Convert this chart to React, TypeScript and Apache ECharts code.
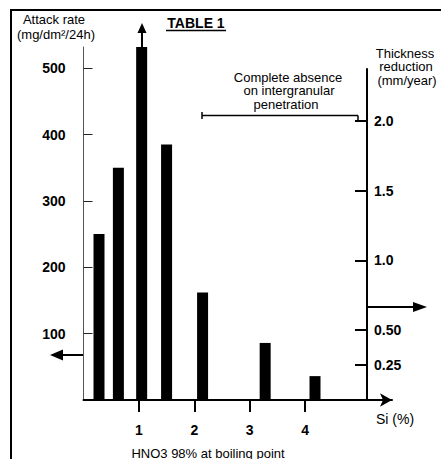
import React, { useEffect, useRef } from "react";
import * as echarts from "echarts";

// Si content (%) and attack rate (mg/dm²/24h) for each bar
const siPercent = [0.28, 0.63, 1.05, 1.5, 2.15, 3.28, 4.18];
const attackRate = [250, 350, 532, 385, 162, 86, 36];
// index of the bar that goes off the scale (drawn with an arrow)
const offScaleIndex = 2;

// tick labels
const rateTicks = [100, 200, 300, 400, 500];
const siTicks = [1, 2, 3, 4];
const thicknessTicks = [0.25, 0.5, 1.0, 1.5, 2.0];
const thicknessLabels = ["0.25", "0.50", "1.0", "1.5", "2.0"];

// texts
const chartTitle = "TABLE 1";
const leftTitle = ["Attack rate", "(mg/dm²/24h)"];
const rightTitle = ["Thickness", "reduction", "(mm/year)"];
const note = ["Complete absence", "on intergranular", "penetration"];
const xName = "Si (%)";
const caption = "HNO3 98% at boiling point";

const FONT = "'Liberation Sans', Arial, Helvetica, sans-serif";

function txt(text: string, x: number, y: number, size: number, bold = false, align = "center") {
  return {
    type: "text",
    x,
    y,
    silent: true,
    style: {
      text,
      fill: "#000",
      font: `${bold ? "bold " : ""}${size}px ${FONT}`,
      align,
      verticalAlign: "middle",
      textAlign: align,
      textVerticalAlign: "middle",
    },
  };
}

function line(x1: number, y1: number, x2: number, y2: number, w = 2) {
  return {
    type: "line",
    silent: true,
    shape: { x1, y1, x2, y2 },
    style: { stroke: "#000", lineWidth: w },
  };
}

function tri(points: number[][]) {
  return { type: "polygon", silent: true, shape: { points }, style: { fill: "#000" } };
}

export default function App() {
  const ref = useRef<HTMLDivElement>(null);

  useEffect(() => {
    if (!ref.current) return;
    const chart = echarts.init(ref.current, null, { renderer: "svg" });

    const option: any = {
      animation: false,
      backgroundColor: "#fff",
      grid: [
        { left: 83.5, top: 47, width: 308.5, height: 353 },
        { left: 83.5, top: 69, width: 283.5, height: 331 },
      ],
      xAxis: [
        {
          type: "value",
          gridIndex: 0,
          min: 0,
          max: 5.57,
          splitLine: { show: false },
          axisLine: {
            show: true,
            onZero: false,
            symbol: ["none", "arrow"],
            symbolSize: [10, 12],
            lineStyle: { color: "#000", width: 2 },
          },
          axisTick: {
            show: true,
            inside: false,
            length: 12,
            customValues: siTicks,
            lineStyle: { color: "#000", width: 2 },
          },
          axisLabel: {
            customValues: siTicks,
            margin: 23,
            color: "#000",
            fontWeight: "bold",
            fontSize: 14,
            fontFamily: FONT,
          },
        },
        { type: "value", gridIndex: 1, min: 0, max: 1, show: false },
      ],
      yAxis: [
        {
          type: "value",
          gridIndex: 0,
          min: 0,
          max: 532,
          position: "left",
          splitLine: { show: false },
          axisLine: { show: true, onZero: false, lineStyle: { color: "#555", width: 1 } },
          axisTick: {
            show: true,
            inside: true,
            length: 9,
            customValues: rateTicks,
            lineStyle: { color: "#222", width: 1 },
          },
          axisLabel: {
            customValues: rateTicks,
            margin: 18,
            color: "#000",
            fontWeight: "bold",
            fontSize: 14,
            fontFamily: FONT,
          },
        },
        {
          type: "value",
          gridIndex: 1,
          min: 0,
          max: 2.37,
          position: "right",
          splitLine: { show: false },
          axisLine: { show: true, onZero: false, lineStyle: { color: "#000", width: 2 } },
          axisTick: {
            show: true,
            inside: true,
            length: 12,
            customValues: thicknessTicks,
            lineStyle: { color: "#000", width: 2 },
          },
          axisLabel: {
            customValues: thicknessTicks,
            margin: 7,
            color: "#000",
            fontWeight: "bold",
            fontSize: 14,
            fontFamily: FONT,
            formatter: (v: number) => {
              const i = thicknessTicks.findIndex((t) => Math.abs(t - v) < 1e-6);
              return i >= 0 ? thicknessLabels[i] : "";
            },
          },
        },
      ],
      series: [
        {
          type: "bar",
          xAxisIndex: 0,
          yAxisIndex: 0,
          barWidth: 11,
          itemStyle: { color: "#000" },
          data: siPercent.map((s, i) => [s, attackRate[i]]),
          silent: true,
        },
      ],
    };
    chart.setOption(option);

    const top = chart.convertToPixel({ seriesIndex: 0 }, [
      siPercent[offScaleIndex],
      attackRate[offScaleIndex],
    ]) as number[];
    const ax = Math.round(top[0]);
    const ay = top[1];

    const graphic: any[] = [
      // frame
      {
        type: "polyline",
        silent: true,
        shape: { points: [[11, 459], [11, 10], [441, 10]] },
        style: { stroke: "#000", lineWidth: 2, fill: null },
      },
      // title
      txt(chartTitle, 196, 23, 14, true),
      line(166, 30.5, 226, 30.5, 1.5),
      // left axis title
      txt(leftTitle[0], 54, 19, 13),
      txt(leftTitle[1], 56, 34, 13),
      // right axis title
      txt(rightTitle[0], 405, 53, 13),
      txt(rightTitle[1], 406, 66.7, 13),
      txt(rightTitle[2], 407, 80.4, 13),
      // note
      txt(note[0], 288, 77, 13),
      txt(note[1], 289, 90.6, 13),
      txt(note[2], 286, 104.2, 13),
      line(202, 115.5, 358, 115.5, 1.5),
      line(202, 112, 202, 119, 1.5),
      line(358, 115.5, 358, 120, 1.5),
      // axis indicator arrows
      line(83, 355, 62, 355, 2),
      tri([[50, 355], [63, 349.5], [63, 360.5]]),
      line(367, 307, 414, 307, 2),
      tri([[427, 307], [413, 302], [413, 312]]),
      // off-scale bar arrow
      line(ax, ay, ax, 32, 2),
      tri([[ax, 23], [ax - 4.5, 33], [ax + 4.5, 33]]),
      // x name & caption
      txt(xName, 395, 419, 14),
      txt(caption, 208, 453, 13),
    ];
    chart.setOption({ graphic });

    return () => chart.dispose();
  }, []);

  return (
    <div
      ref={ref}
      style={{ position: "absolute", left: 0, top: 0, width: 441, height: 459, background: "#fff" }}
    />
  );
}
